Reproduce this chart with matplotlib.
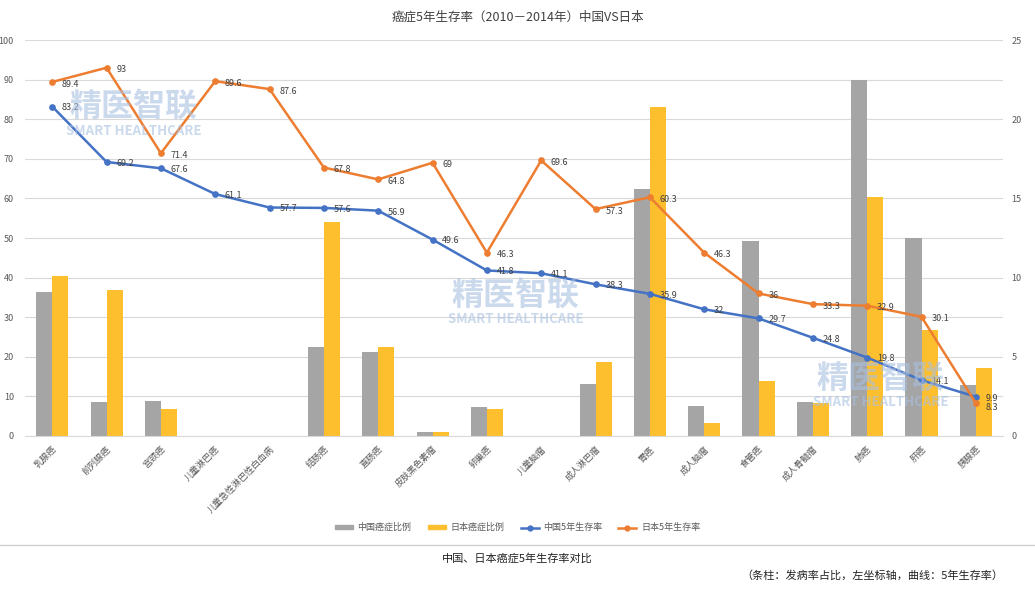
import matplotlib.pyplot as plt
from matplotlib.lines import Line2D
from matplotlib.patches import Patch
import numpy as np

plt.rcParams['font.family'] = ['Noto Sans CJK SC', 'DejaVu Sans']

cancers = ['乳腺癌', '前列腺癌', '宫颈癌', '儿童淋巴癌', '儿童急性淋巴性白血病', '结肠癌',
           '直肠癌', '皮肤黑色素瘤', '卵巢癌', '儿童脑瘤', '成人淋巴瘤', '胃癌',
           '成人脑瘤', '食管癌', '成人骨髓瘤', '肺癌', '肝癌', '胰腺癌']
# incidence share (right axis)
cn_share = [9.1, 2.15, 2.2, 0, 0, 5.6, 5.3, 0.25, 1.8, 0, 3.3, 15.6, 1.9, 12.3, 2.15, 22.5, 12.5, 3.2]
jp_share = [10.1, 9.2, 1.7, 0, 0, 13.5, 5.6, 0.25, 1.7, 0, 4.7, 20.8, 0.8, 3.5, 2.1, 15.1, 6.7, 4.3]
# 5-year survival (left axis)
cn_surv = [83.2, 69.2, 67.6, 61.1, 57.7, 57.6, 56.9, 49.6, 41.8, 41.1, 38.3, 35.9, 32, 29.7, 24.8, 19.8, 14.1, 9.9]
jp_surv = [89.4, 93, 71.4, 89.6, 87.6, 67.8, 64.8, 69, 46.3, 69.6, 57.3, 60.3, 46.3, 36, 33.3, 32.9, 30.1, 8.3]

GRAY = '#a5a5a5'
YELLOW = '#fdbf2d'
BLUE = '#4472c4'
ORANGE = '#ed7d31'
TXT = '#595959'

fig = plt.figure(figsize=(10.35, 6.08), dpi=100)
ax2 = fig.add_axes([0.0242, 0.2829, 0.9449, 0.6513])  # bars, right scale
ax = ax2.twinx()  # lines, left scale
ax.yaxis.tick_left()
ax2.yaxis.tick_right()
ax.set_zorder(ax2.get_zorder() + 1)
ax.patch.set_visible(False)

x = np.arange(len(cancers))
w = 0.295
ax2.bar(x - w / 2, cn_share, w, color=GRAY, zorder=2)
ax2.bar(x + w / 2, jp_share, w, color=YELLOW, zorder=2)
ax2.set_ylim(0, 25)
ax2.set_yticks(np.arange(0, 26, 5))
ax2.set_yticks(np.arange(0, 26, 2.5), minor=True)
ax2.grid(axis='y', which='both', color='#d9d9d9', lw=0.8, zorder=0)
ax2.tick_params(axis='y', which='both', length=0, labelsize=6.5, labelcolor=TXT, pad=6)
ax2.set_xlim(-0.5, len(cancers) - 0.5)
ax2.set_xticks(x)
ax2.set_xticklabels(cancers, rotation=45, ha='right', rotation_mode='anchor',
                    fontsize=6.5, color=TXT)
ax2.tick_params(axis='x', length=0, pad=6)

ax.plot(x, cn_surv, color=BLUE, lw=1.8, marker='o', ms=3.8)
ax.plot(x, jp_surv, color=ORANGE, lw=1.8, marker='o', ms=3.8)
for xi, v in zip(x, cn_surv):
    ax.annotate(f'{v:g}', (xi, v), xytext=(7, -1), textcoords='offset points',
                ha='left', va='center', fontsize=6.5, color='#404040')
for i, (xi, v) in enumerate(zip(x, jp_surv)):
    dy = -3.5 if i == len(x) - 1 else -1.5
    ax.annotate(f'{v:g}', (xi, v), xytext=(7, dy), textcoords='offset points',
                ha='left', va='center', fontsize=6.5, color='#404040')
ax.set_ylim(0, 100)
ax.set_yticks(np.arange(0, 101, 10))
ax.tick_params(axis='y', length=0, labelsize=6.5, labelcolor=TXT, pad=8)

for a in (ax, ax2):
    for s in a.spines.values():
        s.set_visible(False)
ax2.spines['bottom'].set_visible(True)
ax2.spines['bottom'].set_color('#d9d9d9')

# watermarks
for wx, wy in [(0.129, 0.824), (0.498, 0.514), (0.851, 0.378)]:
    fig.text(wx, wy, '精医智联', ha='center', va='center', fontsize=23, weight='bold',
             color='#a9c0e2', alpha=0.6, zorder=10)
    fig.text(wx, wy - 0.039, 'SMART HEALTHCARE', ha='center', va='center', fontsize=9.5,
             weight='bold', color='#a9c0e2', alpha=0.6, zorder=10)

fig.text(0.5, 0.972, '癌症5年生存率（2010－2014年）中国VS日本', ha='center', va='center',
         fontsize=9, color='#404040')

handles = [Patch(color=GRAY), Patch(color=YELLOW),
           Line2D([], [], color=BLUE, lw=1.8, marker='o', ms=3.5),
           Line2D([], [], color=ORANGE, lw=1.8, marker='o', ms=3.5)]
labels = ['中国癌症比例', '日本癌症比例', '中国5年生存率', '日本5年生存率']
fig.legend(handles, labels, loc='center', bbox_to_anchor=(0.5, 0.132), ncol=4,
           frameon=False, fontsize=6.5, handlelength=2.0, handleheight=0.35,
           handletextpad=0.5, columnspacing=1.8, labelcolor=TXT)

fig.add_artist(Line2D([0, 1], [0.1036, 0.1036], transform=fig.transFigure,
                      color='#d0d0d0', lw=1))
fig.text(0.5, 0.082, '中国、日本癌症5年生存率对比', ha='center', va='center',
         fontsize=8, color='#222222')
fig.text(0.969, 0.054, '（条柱：发病率占比，左坐标轴，曲线：5年生存率）', ha='right',
         va='center', fontsize=8, color='#222222')

fig.savefig('out.png', dpi=100)
